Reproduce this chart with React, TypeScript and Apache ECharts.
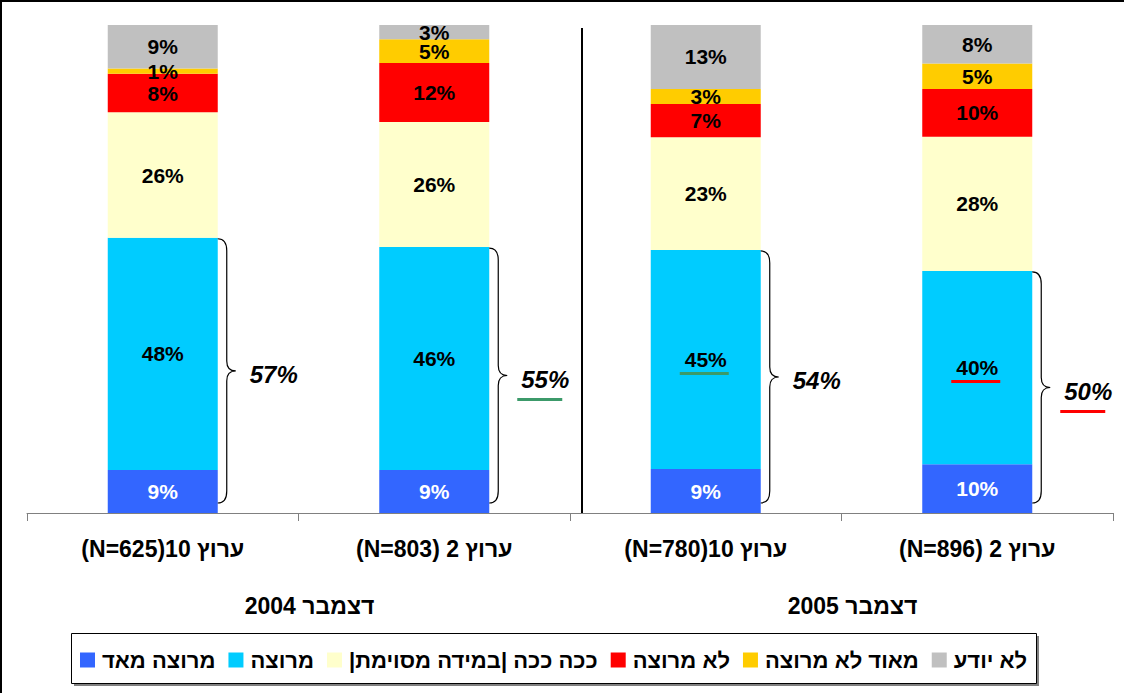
import React, { useEffect, useRef } from "react";
import * as echarts from "echarts";

// Category (x-axis) labels, written so that they display like the reference
const categories = ["(N=625)10 ערוץ", "(N=803) 2 ערוץ", "(N=780)10 ערוץ", "(N=896) 2 ערוץ"];
const groupLabels = ["2004 דצמבר", "2005 דצמבר"];

// Series names (bottom to top)
const seriesNames = [
  "מרוצה מאד",
  "מרוצה",
  "|ככה ככה |במידה מסוימת",
  "לא מרוצה",
  "מאוד לא מרוצה",
  "לא יודע",
];
const seriesColors = ["#3366FF", "#00CCFF", "#FFFFCC", "#FF0000", "#FFCC00", "#C0C0C0"];

// Values (%)
const veryPleased = [8.8, 8.8, 9.0, 10.0];
const pleased = [47.6, 45.7, 44.9, 39.6];
const soSo = [25.7, 25.6, 23.1, 27.5];
const notPleased = [7.9, 12.1, 6.8, 9.8];
const veryNotPleased = [1.1, 4.9, 3.1, 5.2];
const dontKnow = [8.9, 2.9, 13.1, 7.9];

// Bracketed totals (very pleased + pleased)
const satisfiedTotals = [57, 55, 54, 50];
const pleasedUnderline = [null, null, "#3C9A6A", "#FF0000"];
const totalUnderline = [null, "#3C9A6A", null, "#FF0000"];

const BAR_W = 110;
const NARROW = '"Liberation Sans Narrow", "Arial Narrow", "Liberation Sans", Arial, sans-serif';

export default function App() {
  const ref = useRef<HTMLDivElement>(null);

  useEffect(() => {
    if (!ref.current) return;
    const chart = echarts.init(ref.current, undefined, { renderer: "svg" });

    const seriesData = [veryPleased, pleased, soSo, notPleased, veryNotPleased, dontKnow];

    const barSeries = seriesData.map((vals, si) => ({
      name: seriesNames[si],
      type: "bar",
      stack: "total",
      barWidth: BAR_W,
      data: vals,
      itemStyle: { color: seriesColors[si] },
      label: {
        show: true,
        position: "inside",
        formatter: (p: any) => Math.round(p.value) + "%",
        color: si === 0 ? "#FFFFFF" : "#000000",
        fontFamily: '"Liberation Sans", Arial, sans-serif',
        fontWeight: "bold",
        fontSize: 21,
      },
      emphasis: { disabled: true },
      z: 2,
    }));

    const braceData = categories.map((_, i) => [
      i,
      veryPleased[i],
      veryPleased[i] + pleased[i],
      satisfiedTotals[i],
    ]);

    const braceSeries = {
      type: "custom",
      name: "brace",
      silent: true,
      z: 5,
      data: braceData,
      renderItem: (params: any, api: any) => {
        const i = api.value(0);
        const dark = api.value(1);
        const topVal = api.value(2);
        const total = api.value(3);
        const pTop = api.coord([i, topVal]);
        const pBase = api.coord([i, 0]);
        const pMid = api.coord([i, dark + (topVal - dark) / 2]);
        const cx = pTop[0];
        const xr = cx + BAR_W / 2;
        const yT = pTop[1] + 1;
        const yB = pBase[1] - 10;
        const yM = (yT + yB) / 2;
        const xv = xr + 9;
        const xt = xr + 18;
        const d =
          `M${xr},${yT} Q${xv},${yT} ${xv},${yT + 12} L${xv},${yM - 10} ` +
          `Q${xv},${yM} ${xt},${yM} Q${xv},${yM} ${xv},${yM + 10} ` +
          `L${xv},${yB - 12} Q${xv},${yB} ${xr},${yB}`;
        const lx = xt + 14;
        const children: any[] = [
          {
            type: "path",
            shape: { pathData: d },
            style: { fill: "none", stroke: "#000", lineWidth: 1.2 },
          },
          {
            type: "text",
            x: lx,
            y: yM + 4,
            style: {
              text: total + "%",
              fill: "#000",
              font: 'italic bold 24px "Liberation Sans", Arial, sans-serif',
              align: "left",
              verticalAlign: "middle",
            },
          },
        ];
        const tu = totalUnderline[params.dataIndex];
        if (tu) {
          children.push({
            type: "line",
            shape: { x1: lx - 4, y1: yM + 24, x2: lx + 41, y2: yM + 24 },
            style: { stroke: tu, lineWidth: 3 },
          });
        }
        const pu = pleasedUnderline[params.dataIndex];
        if (pu) {
          children.push({
            type: "line",
            shape: { x1: cx - 26, y1: pMid[1] + 14, x2: cx + 23, y2: pMid[1] + 14 },
            style: { stroke: pu, lineWidth: 3 },
          });
        }
        return { type: "group", children };
      },
    };

    const option: any = {
      animation: false,
      backgroundColor: "#FFFFFF",
      grid: { left: 27, right: 11, top: 25, bottom: 180, containLabel: false },
      xAxis: [
        {
          type: "category",
          data: categories,
          axisLine: { show: true, lineStyle: { color: "#808080", width: 1 } },
          axisTick: { show: true, length: 8, lineStyle: { color: "#808080" } },
          axisLabel: {
            color: "#000",
            fontFamily: NARROW,
            fontWeight: "bold",
            fontSize: 23,
            margin: 24,
          },
        },
        {
          type: "category",
          data: groupLabels,
          position: "bottom",
          offset: 57,
          axisLine: { show: false },
          axisTick: { show: false },
          axisLabel: {
            color: "#000",
            fontFamily: NARROW,
            fontWeight: "bold",
            fontSize: 23,
            margin: 24,
            padding: [0, 0, 0, 22],
          },
        },
      ],
      yAxis: { type: "value", min: 0, max: 100, show: false },
      legend: {
        data: seriesNames,
        left: 80,
        top: 649,
        padding: 0,
        itemWidth: 15,
        itemHeight: 15,
        itemGap: 13,
        icon: "rect",
        selectedMode: false,
        z: 10,
        textStyle: {
          color: "#000",
          fontFamily: NARROW,
          fontWeight: "bold",
          fontSize: 22,
          lineHeight: 22,
          padding: [0, 0, 0, 2],
        },
      },
      graphic: [
        {
          type: "rect",
          z: 0,
          silent: true,
          shape: { x: 1, y: 1, width: 1200, height: 800 },
          style: { fill: "none", stroke: "#000", lineWidth: 2 },
        },
        {
          type: "line",
          z: 0,
          silent: true,
          shape: { x1: 582, y1: 28, x2: 582, y2: 513 },
          style: { stroke: "#000", lineWidth: 2 },
        },
        {
          type: "rect",
          z: 0,
          silent: true,
          shape: { x: 74, y: 636, width: 965, height: 50 },
          style: { fill: "#808080" },
        },
        {
          type: "rect",
          z: 1,
          silent: true,
          shape: { x: 71.5, y: 633.5, width: 965, height: 50 },
          style: { fill: "#FFFFFF", stroke: "#000", lineWidth: 1 },
        },
      ],
      series: [...barSeries, braceSeries],
    };

    chart.setOption(option);
    return () => chart.dispose();
  }, []);

  return (
    <div
      ref={ref}
      style={{ position: "fixed", left: 0, top: 0, width: 1124, height: 693, background: "#fff" }}
    />
  );
}
